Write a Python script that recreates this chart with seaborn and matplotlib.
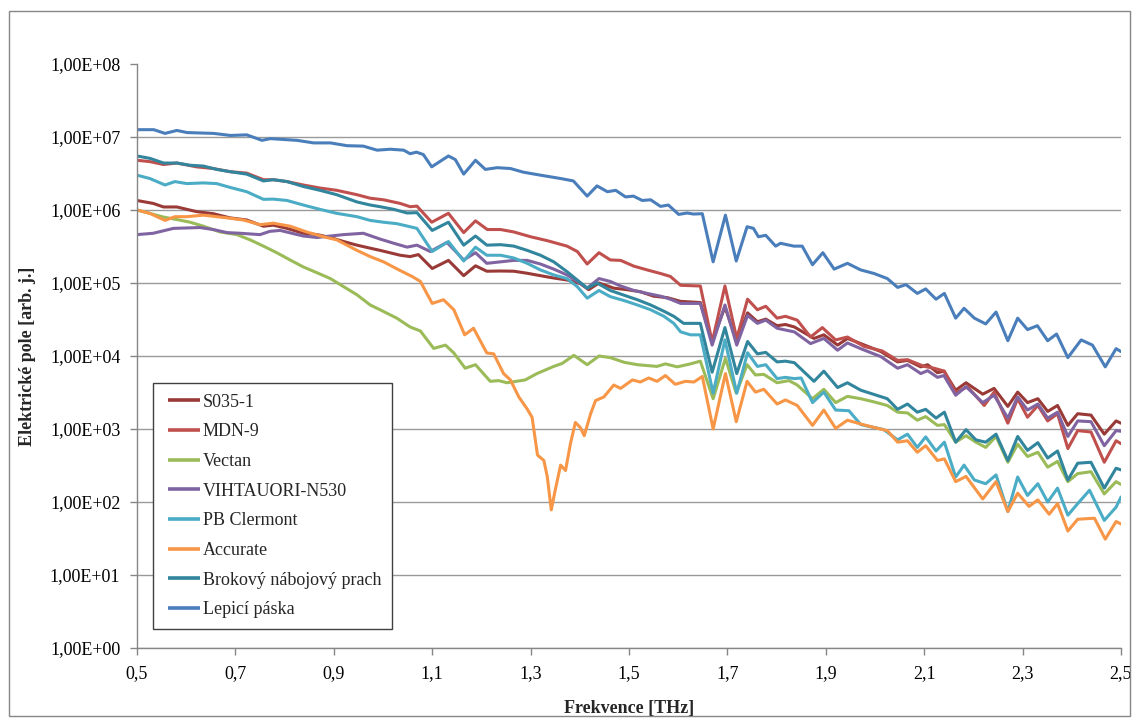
import math

import matplotlib
matplotlib.use("Agg")
import matplotlib.pyplot as plt
import pandas as pd
import seaborn as sns
from matplotlib.legend_handler import HandlerLine2D
from matplotlib.lines import Line2D
from matplotlib.patches import Rectangle
from matplotlib.ticker import FixedLocator, FuncFormatter, NullLocator

# ---- series names and line colours -------------------------------------
series_names = ["S035-1", "MDN-9", "Vectan", "VIHTAUORI-N530", "PB Clermont",
                "Accurate", "Brokový nábojový prach", "Lepicí páska"]
series_colors = ["#993a37", "#c0504d", "#9bbb59", "#8064a2", "#4bacc6",
                 "#f79646", "#31859c", "#4a7ebb"]

# ---- spectra: frequency [THz] and electric field [arb. j.] ---------------
s035_f = [0.500, 0.533, 0.554, 0.581, 0.621, 0.655, 0.689, 0.723, 0.757, 0.777,
          0.805, 0.838, 0.866, 0.893, 0.920, 0.947, 0.974, 0.994, 1.035, 1.055,
          1.072, 1.100, 1.133, 1.164, 1.188, 1.211, 1.239, 1.266, 1.293, 1.320,
          1.347, 1.374, 1.401, 1.418, 1.439, 1.469, 1.496, 1.523, 1.550, 1.578,
          1.605, 1.645, 1.669, 1.695, 1.719, 1.741, 1.761, 1.778, 1.801, 1.818,
          1.836, 1.876, 1.896, 1.924, 1.944, 1.971, 2.012, 2.046, 2.066, 2.093,
          2.107, 2.127, 2.140, 2.164, 2.185, 2.219, 2.242, 2.270, 2.290, 2.310,
          2.331, 2.351, 2.371, 2.392, 2.412, 2.439, 2.466, 2.490, 2.500]
s035_v = [1.35e6, 1.23e6, 1.10e6, 1.10e6, 9.5e5, 8.9e5, 7.8e5, 7.3e5, 6.0e5, 6.2e5,
          5.6e5, 4.8e5, 4.6e5, 4.2e5, 3.7e5, 3.3e5, 3.0e5, 2.8e5, 2.4e5, 2.3e5,
          2.45e5, 1.58e5, 2.04e5, 1.26e5, 1.72e5, 1.45e5, 1.46e5, 1.45e5, 1.36e5, 1.26e5,
          1.17e5, 1.10e5, 9.8e4, 8.1e4, 1.0e5, 8.5e4, 8.1e4, 7.6e4, 6.6e4, 6.3e4,
          5.6e4, 5.4e4, 1.58e4, 4.7e4, 1.58e4, 3.9e4, 2.95e4, 3.2e4, 2.6e4, 2.7e4,
          2.5e4, 1.74e4, 1.95e4, 1.41e4, 1.74e4, 1.48e4, 1.15e4, 8.3e3, 8.7e3, 7.1e3,
          7.6e3, 5.9e3, 6.2e3, 3.4e3, 4.3e3, 3.0e3, 3.6e3, 2.04e3, 3.2e3, 2.3e3,
          2.6e3, 1.74e3, 2.1e3, 1.12e3, 1.62e3, 1.55e3, 8.5e2, 1.29e3, 1.2e3]

mdn9_f = [0.500, 0.526, 0.554, 0.581, 0.621, 0.655, 0.689, 0.723, 0.757, 0.777,
          0.805, 0.838, 0.872, 0.906, 0.947, 0.974, 1.001, 1.035, 1.055, 1.069,
          1.099, 1.133, 1.164, 1.188, 1.212, 1.239, 1.266, 1.300, 1.334, 1.374,
          1.395, 1.415, 1.439, 1.462, 1.483, 1.510, 1.537, 1.564, 1.584, 1.605,
          1.645, 1.669, 1.695, 1.719, 1.741, 1.761, 1.778, 1.801, 1.818, 1.842,
          1.869, 1.893, 1.920, 1.944, 1.978, 2.015, 2.046, 2.066, 2.100, 2.120,
          2.141, 2.164, 2.188, 2.222, 2.242, 2.270, 2.290, 2.310, 2.331, 2.351,
          2.371, 2.392, 2.412, 2.439, 2.466, 2.490, 2.500]
mdn9_v = [4.8e6, 4.6e6, 4.2e6, 4.4e6, 3.9e6, 3.7e6, 3.35e6, 3.2e6, 2.6e6, 2.6e6,
          2.45e6, 2.2e6, 2.0e6, 1.86e6, 1.62e6, 1.45e6, 1.38e6, 1.23e6, 1.11e6, 1.13e6,
          6.8e5, 9.0e5, 4.9e5, 7.1e5, 5.4e5, 5.4e5, 5.0e5, 4.3e5, 3.8e5, 3.2e5,
          2.7e5, 1.82e5, 2.6e5, 2.07e5, 2.04e5, 1.7e5, 1.51e5, 1.35e5, 1.23e5, 9.3e4,
          9.1e4, 1.55e4, 9.1e4, 1.74e4, 6.0e4, 4.3e4, 4.8e4, 3.3e4, 3.5e4, 3.1e4,
          1.82e4, 2.45e4, 1.66e4, 1.82e4, 1.35e4, 1.17e4, 8.7e3, 8.9e3, 7.2e3, 6.8e3,
          6.2e3, 3.1e3, 3.8e3, 2.1e3, 3.2e3, 1.2e3, 2.6e3, 1.45e3, 2.1e3, 1.29e3,
          1.62e3, 5.4e2, 9.5e2, 9.1e2, 3.5e2, 6.9e2, 6.3e2]

vectan_f = [0.500, 0.526, 0.554, 0.581, 0.608, 0.635, 0.669, 0.703, 0.730, 0.757,
            0.784, 0.811, 0.838, 0.866, 0.893, 0.920, 0.947, 0.974, 0.994, 1.028,
            1.055, 1.076, 1.103, 1.127, 1.144, 1.167, 1.188, 1.218, 1.235, 1.252,
            1.289, 1.313, 1.347, 1.364, 1.388, 1.415, 1.439, 1.462, 1.490, 1.517,
            1.557, 1.574, 1.598, 1.625, 1.645, 1.671, 1.696, 1.718, 1.740, 1.757,
            1.774, 1.801, 1.825, 1.842, 1.873, 1.896, 1.920, 1.944, 1.971, 1.998,
            2.025, 2.046, 2.066, 2.086, 2.103, 2.127, 2.141, 2.164, 2.185, 2.205,
            2.225, 2.246, 2.270, 2.290, 2.310, 2.331, 2.351, 2.371, 2.392, 2.412,
            2.439, 2.466, 2.490, 2.500]
vectan_v = [1.0e6, 9.0e5, 8.0e5, 7.4e5, 6.8e5, 6.0e5, 5.0e5, 4.6e5, 3.9e5, 3.2e5,
            2.6e5, 2.07e5, 1.66e5, 1.38e5, 1.15e5, 8.9e4, 6.9e4, 5.0e4, 4.3e4, 3.3e4,
            2.5e4, 2.2e4, 1.27e4, 1.41e4, 1.10e4, 6.8e3, 7.6e3, 4.5e3, 4.6e3, 4.3e3,
            4.7e3, 5.75e3, 7.2e3, 7.9e3, 1.02e4, 7.6e3, 1.0e4, 9.5e3, 8.2e3, 7.6e3,
            7.2e3, 7.8e3, 7.1e3, 7.8e3, 8.5e3, 2.6e3, 9.3e3, 3.1e3, 7.6e3, 5.5e3,
            5.6e3, 4.3e3, 4.6e3, 4.0e3, 2.6e3, 3.5e3, 2.3e3, 2.8e3, 2.6e3, 2.35e3,
            2.1e3, 1.7e3, 1.66e3, 1.32e3, 1.48e3, 1.12e3, 1.15e3, 6.6e2, 8.1e2, 6.6e2,
            5.6e2, 7.9e2, 3.5e2, 6.2e2, 4.2e2, 4.8e2, 3.0e2, 3.6e2, 1.9e2, 2.45e2,
            2.6e2, 1.29e2, 1.9e2, 1.74e2]

vihtavuori_f = [0.500, 0.533, 0.574, 0.628, 0.655, 0.683, 0.710, 0.750, 0.770, 0.791,
                0.838, 0.866, 0.893, 0.920, 0.960, 0.994, 1.022, 1.049, 1.069, 1.096,
                1.130, 1.164, 1.188, 1.211, 1.239, 1.266, 1.293, 1.320, 1.347, 1.374,
                1.395, 1.415, 1.439, 1.462, 1.483, 1.510, 1.537, 1.564, 1.584, 1.605,
                1.645, 1.669, 1.695, 1.719, 1.741, 1.761, 1.778, 1.801, 1.836, 1.869,
                1.896, 1.924, 1.944, 1.971, 2.012, 2.046, 2.066, 2.093, 2.107, 2.127,
                2.140, 2.164, 2.185, 2.219, 2.242, 2.270, 2.290, 2.310, 2.331, 2.351,
                2.371, 2.392, 2.412, 2.439, 2.466, 2.490, 2.500]
vihtavuori_v = [4.6e5, 4.8e5, 5.6e5, 5.75e5, 5.4e5, 4.9e5, 4.8e5, 4.6e5, 5.1e5, 5.25e5,
                4.4e5, 4.2e5, 4.4e5, 4.6e5, 4.8e5, 4.0e5, 3.5e5, 3.1e5, 3.3e5, 2.7e5,
                3.6e5, 2.07e5, 2.6e5, 1.86e5, 1.95e5, 2.04e5, 2.04e5, 1.82e5, 1.55e5, 1.29e5,
                1.05e5, 8.5e4, 1.15e5, 1.05e5, 9.1e4, 7.9e4, 7.2e4, 6.6e4, 6.0e4, 5.25e4,
                5.25e4, 1.41e4, 5.0e4, 1.41e4, 3.6e4, 2.8e4, 3.1e4, 2.4e4, 2.14e4, 1.48e4,
                1.74e4, 1.2e4, 1.51e4, 1.26e4, 9.8e3, 6.8e3, 7.6e3, 5.75e3, 6.3e3, 5.1e3,
                5.4e3, 2.9e3, 3.8e3, 2.3e3, 2.9e3, 1.41e3, 2.75e3, 1.82e3, 2.2e3, 1.41e3,
                1.7e3, 7.9e2, 1.29e3, 1.26e3, 5.9e2, 9.5e2, 9.3e2]

clermont_f = [0.500, 0.526, 0.557, 0.577, 0.601, 0.635, 0.662, 0.689, 0.723, 0.757,
              0.777, 0.805, 0.838, 0.872, 0.906, 0.947, 0.974, 1.001, 1.028, 1.055,
              1.069, 1.100, 1.133, 1.164, 1.188, 1.211, 1.239, 1.266, 1.293, 1.320,
              1.347, 1.374, 1.395, 1.415, 1.439, 1.462, 1.490, 1.517, 1.544, 1.571,
              1.591, 1.605, 1.625, 1.645, 1.671, 1.695, 1.719, 1.741, 1.761, 1.778,
              1.801, 1.818, 1.836, 1.850, 1.873, 1.896, 1.920, 1.947, 1.971, 2.018,
              2.046, 2.066, 2.086, 2.103, 2.124, 2.141, 2.164, 2.181, 2.202, 2.225,
              2.246, 2.270, 2.290, 2.310, 2.331, 2.351, 2.371, 2.392, 2.412, 2.436,
              2.466, 2.490, 2.500]
clermont_v = [3.0e6, 2.7e6, 2.2e6, 2.45e6, 2.3e6, 2.35e6, 2.3e6, 2.04e6, 1.78e6, 1.4e6,
              1.41e6, 1.35e6, 1.17e6, 1.02e6, 9.0e5, 8.1e5, 7.2e5, 6.8e5, 6.5e5, 5.9e5,
              5.6e5, 2.7e5, 3.7e5, 2.0e5, 3.1e5, 2.4e5, 2.4e5, 2.2e5, 1.86e5, 1.51e5,
              1.29e5, 1.15e5, 8.9e4, 6.2e4, 7.9e4, 6.5e4, 5.75e4, 5.0e4, 4.3e4, 3.5e4,
              2.8e4, 2.14e4, 1.95e4, 1.95e4, 3.1e3, 1.66e4, 3.1e3, 1.11e4, 7.2e3, 7.6e3,
              4.9e3, 5.1e3, 4.9e3, 5.0e3, 2.3e3, 3.2e3, 1.82e3, 1.78e3, 1.15e3, 9.8e2,
              7.1e2, 8.5e2, 5.6e2, 7.8e2, 5.0e2, 6.6e2, 2.2e2, 3.2e2, 2.0e2, 1.78e2,
              2.35e2, 74, 2.2e2, 1.23e2, 1.78e2, 1.0e2, 1.55e2, 66, 95, 1.45e2,
              56, 85, 1.17e2]

accurate_f = [0.500, 0.526, 0.557, 0.577, 0.601, 0.635, 0.683, 0.716, 0.750, 0.777,
              0.811, 0.845, 0.879, 0.906, 0.947, 0.974, 1.001, 1.035, 1.059, 1.076,
              1.100, 1.123, 1.144, 1.166, 1.184, 1.211, 1.225, 1.245, 1.259, 1.276,
              1.293, 1.303, 1.314, 1.327, 1.334, 1.342, 1.350, 1.361, 1.371, 1.381,
              1.391, 1.401, 1.409, 1.422, 1.432, 1.449, 1.469, 1.483, 1.507, 1.523,
              1.540, 1.557, 1.574, 1.594, 1.615, 1.632, 1.649, 1.671, 1.696, 1.718,
              1.740, 1.757, 1.774, 1.801, 1.818, 1.842, 1.873, 1.896, 1.920, 1.944,
              1.971, 1.998, 2.025, 2.046, 2.066, 2.086, 2.103, 2.127, 2.141, 2.164,
              2.185, 2.219, 2.246, 2.270, 2.290, 2.313, 2.331, 2.354, 2.371, 2.392,
              2.412, 2.446, 2.468, 2.490, 2.500]
accurate_v = [1.0e6, 9.0e5, 7.2e5, 8.1e5, 8.1e5, 8.5e5, 7.8e5, 7.3e5, 6.3e5, 6.6e5,
              6.0e5, 5.0e5, 4.3e5, 3.9e5, 2.8e5, 2.3e5, 1.95e5, 1.48e5, 1.23e5, 1.05e5,
              5.25e4, 5.9e4, 4.3e4, 1.95e4, 2.4e4, 1.10e4, 1.07e4, 5.75e3, 4.7e3, 2.75e3,
              1.88e3, 1.45e3, 4.4e2, 3.7e2, 2.2e2, 78, 1.45e2, 3.2e2, 2.7e2, 6.3e2,
              1.23e3, 1.05e3, 8.1e2, 1.62e3, 2.45e3, 2.75e3, 4.0e3, 3.6e3, 4.7e3, 4.4e3,
              5.0e3, 4.5e3, 5.4e3, 4.1e3, 4.5e3, 4.4e3, 5.25e3, 1.0e3, 5.75e3, 1.26e3,
              4.5e3, 3.2e3, 3.5e3, 2.2e3, 2.5e3, 2.1e3, 1.12e3, 1.82e3, 1.02e3, 1.32e3,
              1.17e3, 1.05e3, 9.5e2, 6.6e2, 6.9e2, 4.8e2, 5.9e2, 3.7e2, 3.9e2, 1.9e2,
              2.24e2, 1.1e2, 1.9e2, 74, 1.32e2, 87, 1.07e2, 68, 95, 40,
              58, 60, 31, 54, 50]

brokovy_f = [0.500, 0.526, 0.554, 0.581, 0.608, 0.635, 0.662, 0.689, 0.723, 0.757,
             0.777, 0.805, 0.838, 0.872, 0.906, 0.947, 0.974, 0.994, 1.022, 1.049,
             1.069, 1.100, 1.133, 1.164, 1.188, 1.211, 1.239, 1.266, 1.293, 1.320,
             1.347, 1.374, 1.415, 1.435, 1.462, 1.490, 1.517, 1.544, 1.571, 1.591,
             1.611, 1.645, 1.669, 1.695, 1.719, 1.741, 1.761, 1.778, 1.801, 1.818,
             1.836, 1.876, 1.896, 1.924, 1.944, 1.971, 2.025, 2.046, 2.066, 2.086,
             2.103, 2.124, 2.141, 2.164, 2.185, 2.205, 2.225, 2.246, 2.270, 2.290,
             2.310, 2.331, 2.351, 2.371, 2.392, 2.412, 2.439, 2.466, 2.490, 2.500]
brokovy_v = [5.5e6, 5.1e6, 4.4e6, 4.4e6, 4.1e6, 4.0e6, 3.6e6, 3.35e6, 3.1e6, 2.5e6,
             2.6e6, 2.45e6, 2.1e6, 1.86e6, 1.62e6, 1.29e6, 1.17e6, 1.11e6, 1.02e6, 9.1e5,
             9.2e5, 5.25e5, 6.8e5, 3.3e5, 4.4e5, 3.3e5, 3.35e5, 3.2e5, 2.8e5, 2.4e5,
             1.95e5, 1.43e5, 8.5e4, 1.0e5, 7.9e4, 6.8e4, 5.9e4, 5.0e4, 4.1e4, 3.5e4,
             2.8e4, 2.8e4, 6.0e3, 2.45e4, 5.75e3, 1.58e4, 1.07e4, 1.12e4, 8.3e3, 8.5e3,
             8.1e3, 4.5e3, 6.2e3, 3.7e3, 4.3e3, 3.4e3, 2.6e3, 1.86e3, 2.2e3, 1.7e3,
             1.86e3, 1.41e3, 1.7e3, 6.6e2, 9.8e2, 7.1e2, 6.6e2, 8.5e2, 3.7e2, 7.9e2,
             5.1e2, 6.5e2, 4.0e2, 5.0e2, 2.0e2, 3.4e2, 3.5e2, 1.55e2, 2.9e2, 2.75e2]

lepici_f = [0.500, 0.534, 0.557, 0.581, 0.602, 0.656, 0.690, 0.723, 0.754, 0.771,
            0.825, 0.859, 0.893, 0.927, 0.960, 0.988, 1.015, 1.042, 1.055, 1.068,
            1.082, 1.099, 1.133, 1.147, 1.164, 1.188, 1.208, 1.232, 1.259, 1.285,
            1.320, 1.361, 1.387, 1.415, 1.435, 1.456, 1.473, 1.493, 1.509, 1.527,
            1.544, 1.564, 1.580, 1.601, 1.618, 1.631, 1.649, 1.671, 1.696, 1.718,
            1.740, 1.753, 1.763, 1.778, 1.798, 1.808, 1.835, 1.852, 1.873, 1.894,
            1.917, 1.944, 1.971, 1.998, 2.025, 2.046, 2.063, 2.086, 2.103, 2.124,
            2.141, 2.164, 2.181, 2.202, 2.225, 2.246, 2.270, 2.290, 2.310, 2.330,
            2.351, 2.369, 2.392, 2.419, 2.442, 2.468, 2.490, 2.500]
lepici_v = [1.26e7, 1.26e7, 1.12e7, 1.23e7, 1.15e7, 1.12e7, 1.05e7, 1.07e7, 9.0e6, 9.5e6,
            9.0e6, 8.3e6, 8.3e6, 7.6e6, 7.5e6, 6.6e6, 6.8e6, 6.6e6, 5.9e6, 6.2e6,
            5.75e6, 3.9e6, 5.5e6, 4.9e6, 3.1e6, 4.8e6, 3.6e6, 3.8e6, 3.7e6, 3.3e6,
            3.0e6, 2.7e6, 2.5e6, 1.55e6, 2.14e6, 1.78e6, 1.86e6, 1.51e6, 1.55e6, 1.35e6,
            1.38e6, 1.12e6, 1.17e6, 8.7e5, 9.1e5, 8.8e5, 8.9e5, 1.95e5, 8.5e5, 2.0e5,
            5.9e5, 5.6e5, 4.3e5, 4.5e5, 3.2e5, 3.5e5, 3.2e5, 3.2e5, 1.78e5, 2.6e5,
            1.55e5, 1.86e5, 1.51e5, 1.35e5, 1.15e5, 8.7e4, 9.5e4, 7.2e4, 8.3e4, 6.0e4,
            7.2e4, 3.3e4, 4.5e4, 3.3e4, 2.75e4, 4.0e4, 1.62e4, 3.3e4, 2.3e4, 2.6e4,
            1.62e4, 2.0e4, 9.5e3, 1.66e4, 1.41e4, 7.1e3, 1.26e4, 1.15e4]

x_ticks = [0.5, 0.7, 0.9, 1.1, 1.3, 1.5, 1.7, 1.9, 2.1, 2.3, 2.5]
y_ticks = [1e0, 1e1, 1e2, 1e3, 1e4, 1e5, 1e6, 1e7, 1e8]

curves = {
    "S035-1": (s035_f, s035_v),
    "MDN-9": (mdn9_f, mdn9_v),
    "Vectan": (vectan_f, vectan_v),
    "VIHTAUORI-N530": (vihtavuori_f, vihtavuori_v),
    "PB Clermont": (clermont_f, clermont_v),
    "Accurate": (accurate_f, accurate_v),
    "Brokový nábojový prach": (brokovy_f, brokovy_v),
    "Lepicí páska": (lepici_f, lepici_v),
}

frames = [pd.DataFrame({"Frekvence": f, "Pole": v, "Vzorek": name})
          for name, (f, v) in curves.items()]
data = pd.concat(frames, ignore_index=True)

# ---- style ---------------------------------------------------------------
sns.set_style("white")
plt.rcParams["font.family"] = ["Liberation Serif", "DejaVu Serif"]
plt.rcParams["font.size"] = 13

fig = plt.figure(figsize=(11.34, 7.18), dpi=100)
ax = fig.add_axes([137 / 1134, 1 - 648 / 718, (1121 - 137) / 1134, (648 - 64) / 718])

sns.lineplot(data=data, x="Frekvence", y="Pole", hue="Vzorek",
             hue_order=series_names, palette=dict(zip(series_names, series_colors)),
             estimator=None, sort=False, linewidth=2.2, ax=ax,
             solid_joinstyle="round", solid_capstyle="round")

ax.set_yscale("log")
ax.set_xlim(0.5, 2.5)
ax.set_ylim(1e0, 1e8)

ax.xaxis.set_major_locator(FixedLocator(x_ticks))
ax.yaxis.set_major_locator(FixedLocator(y_ticks))
ax.yaxis.set_minor_locator(NullLocator())
ax.xaxis.set_minor_locator(NullLocator())
ax.xaxis.set_major_formatter(FuncFormatter(lambda v, p: f"{v:.1f}".replace(".", ",")))
ax.yaxis.set_major_formatter(
    FuncFormatter(lambda v, p: "1,00E+%02d" % int(round(math.log10(v)))))

ax.tick_params(axis="both", which="major", direction="out", length=5, width=1,
               color="#868686", labelsize=13, pad=7, labelcolor="black",
               left=True, bottom=True)

ax.grid(axis="y", color="#9a9a9a", linewidth=1.0)
ax.grid(axis="x", visible=False)
ax.get_ygridlines()[-1].set_visible(False)
ax.set_axisbelow(True)

for side in ("top", "right"):
    ax.spines[side].set_visible(False)
for side in ("left", "bottom"):
    ax.spines[side].set_color("#868686")
    ax.spines[side].set_linewidth(1.0)

ax.set_xlabel("Frekvence [THz]", fontsize=13, fontweight="bold", labelpad=13)
ax.set_ylabel("Elektrické pole [arb. j.]", fontsize=13, fontweight="bold", labelpad=10)

handles, labels = ax.get_legend_handles_labels()
leg = ax.legend(handles, labels, loc="upper left", bbox_to_anchor=(0.0163, 0.4538),
                borderaxespad=0, frameon=True, fancybox=False, framealpha=1,
                edgecolor="#404040", fontsize=13, labelspacing=0.70,
                handlelength=2.0, handletextpad=0.15, borderpad=0.6,
                handler_map={Line2D: HandlerLine2D(xpad=0.25)})
leg.get_frame().set_linewidth(1.0)
for line in leg.get_lines():
    line.set_linewidth(2.6)
    line.set_solid_capstyle("butt")

# chart-area frame
fig.patches.append(Rectangle((9 / 1134, 2 / 718), 1121 / 1134, 705 / 718,
                             transform=fig.transFigure, fill=False,
                             edgecolor="#868686", linewidth=1.0))

fig.savefig("out.png", dpi=100)
